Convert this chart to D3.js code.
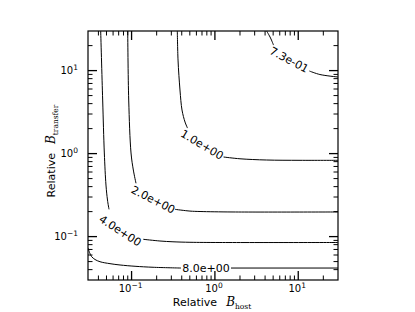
<!DOCTYPE html>
<html lang="en">
<head>
  <meta charset="UTF-8">
  <title>Contour plot</title>
  <script src="https://d3js.org/d3.v7.min.js"></script>
  <style>
    body { margin: 0; background: #fff; }
    text { font-family: "DejaVu Sans", sans-serif; fill: #000; }
    .contour { fill: none; stroke: #000; stroke-width: 1; }
    .frame { fill: none; stroke: #000; stroke-width: 1.2; }
    .tick { stroke: #000; }
  </style>
</head>
<body>
  <svg id="chart" width="415" height="312"></svg>
  <script>
    // contour levels and their labels
    const levels = ["7.3e-01", "1.0e+00", "2.0e+00", "4.0e+00", "8.0e+00"];

    // each contour is split where its label sits: part before the label, part after
    const lineBefore = [
      [[4.18, 30], [4.65, 24.7], [5.05, 20.3]],
      [[0.354, 30], [0.361, 13.4], [0.381, 5.84], [0.403, 3.35], [0.438, 2.40], [0.469, 2.03]],
      [[0.0899, 30], [0.0924, 4.42], [0.0985, 1.017], [0.105, 0.634], [0.113, 0.439]],
      [[0.0426, 30], [0.045, 4.42], [0.0471, 1.017], [0.0493, 0.418], [0.0514, 0.276], [0.0536, 0.213]],
      [[0.03, 0.073], [0.0313, 0.0643], [0.0332, 0.0573], [0.0364, 0.053], [0.0418, 0.0498],
       [0.0551, 0.0472], [0.0727, 0.0455], [0.11, 0.0439], [0.181, 0.0427], [0.392, 0.0418]]
    ];
    const lineAfter = [
      [[13.6, 9.89], [18.2, 8.97], [30, 8.37]],
      [[1.27, 0.91], [2.0, 0.866], [4.18, 0.837], [10.5, 0.83], [30, 0.83]],
      [[0.332, 0.213], [0.502, 0.203], [0.663, 0.2006], [1.65, 0.198], [30, 0.198]],
      [[0.138, 0.0928], [0.219, 0.0885], [0.314, 0.0866], [0.502, 0.0854], [1.15, 0.0849], [30, 0.0849]],
      [[1.56, 0.0418], [30, 0.0418]]
    ];

    // where each label sits (data coords) and how it is turned (degrees)
    const labelAt = [[7.75, 13.4], [0.70, 1.27], [0.181, 0.276], [0.0727, 0.117], [0.782, 0.0418]];
    const labelAngle = [28, 31, 27, 33, 0];

    const xDomain = [0.03, 30];
    const yDomain = [0.03, 30];
    const majorExp = ["\u22121", "0", "1"];
    const majorVals = [0.1, 1, 10];

    const svg = d3.select("#chart");
    const mLeft = 88, mRight = 338, mTop = 31, mBottom = 280;

    const x = d3.scaleLog().domain(xDomain).range([mLeft, mRight]);
    const y = d3.scaleLog().domain(yDomain).range([mBottom, mTop]);

    const line = d3.line().x(d => x(d[0])).y(d => y(d[1])).curve(d3.curveCatmullRom);

    svg.append("defs").append("clipPath").attr("id", "clip")
      .append("rect").attr("x", mLeft).attr("y", mTop)
      .attr("width", mRight - mLeft).attr("height", mBottom - mTop);

    const lines = svg.append("g").attr("clip-path", "url(#clip)");

    levels.forEach((lev, i) => {
      lines.append("path").attr("class", "contour").attr("d", line(lineBefore[i]));
      lines.append("path").attr("class", "contour").attr("d", line(lineAfter[i]));

      const px = x(labelAt[i][0]), py = y(labelAt[i][1]);
      svg.append("text")
        .attr("transform", `translate(${px},${py}) rotate(${labelAngle[i]})`)
        .attr("text-anchor", "middle")
        .attr("dominant-baseline", "central")
        .attr("font-size", 11)
        .text(lev);
    });

    // ticks on all four sides, pointing inwards
    const ticks = x.ticks().filter(t => t > xDomain[0] * 1.001 && t < xDomain[1] * 0.999);
    const isMajor = t => majorVals.some(m => Math.abs(m - t) < 1e-9);

    const tickG = svg.append("g");
    ticks.forEach(t => {
      const len = isMajor(t) ? 9 : 4.5;
      const w = isMajor(t) ? 1.3 : 1;
      const xp = x(t), yp = y(t);
      tickG.append("line").attr("class", "tick").attr("stroke-width", w)
        .attr("x1", xp).attr("x2", xp).attr("y1", mBottom).attr("y2", mBottom - len);
      tickG.append("line").attr("class", "tick").attr("stroke-width", w)
        .attr("x1", xp).attr("x2", xp).attr("y1", mTop).attr("y2", mTop + len);
      tickG.append("line").attr("class", "tick").attr("stroke-width", w)
        .attr("y1", yp).attr("y2", yp).attr("x1", mLeft).attr("x2", mLeft + len);
      tickG.append("line").attr("class", "tick").attr("stroke-width", w)
        .attr("y1", yp).attr("y2", yp).attr("x1", mRight).attr("x2", mRight - len);
    });

    svg.append("rect").attr("class", "frame")
      .attr("x", mLeft).attr("y", mTop).attr("width", mRight - mLeft).attr("height", mBottom - mTop);

    // tick labels as 10^n
    function power(sel, e) {
      sel.append("tspan").text("10");
      sel.append("tspan").attr("dy", -4.5).attr("font-size", 7.5).text(e);
    }
    majorVals.forEach((v, i) => {
      svg.append("text").attr("x", x(v) - 1).attr("y", mBottom + 12)
        .attr("text-anchor", "middle").attr("font-size", 10)
        .call(power, majorExp[i]);
      svg.append("text").attr("x", mLeft - 10).attr("y", y(v) + 3.8)
        .attr("text-anchor", "end").attr("font-size", 10)
        .call(power, majorExp[i]);
    });

    // axis labels
    function axisLabel(sel, sub) {
      sel.append("tspan").text("Relative");
      sel.append("tspan").attr("dx", 9).attr("font-family", "DejaVu Serif, serif")
        .attr("font-style", "italic").attr("font-size", 12).text("B");
      sel.append("tspan").attr("dy", 2.5).attr("font-family", "DejaVu Serif, serif")
        .attr("font-size", 7.5).text(sub);
    }
    svg.append("text").attr("x", 212).attr("y", 306)
      .attr("text-anchor", "middle").attr("font-size", 11)
      .call(axisLabel, "host");
    svg.append("text")
      .attr("transform", "translate(55,151) rotate(-90)")
      .attr("text-anchor", "middle").attr("font-size", 11)
      .call(axisLabel, "transfer");
  </script>
</body>
</html>
